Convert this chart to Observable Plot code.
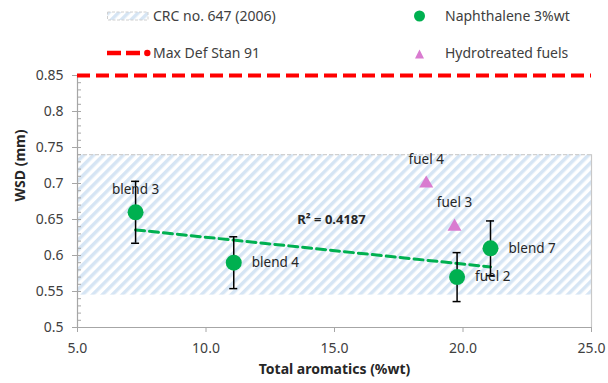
<!DOCTYPE html>
<html><head><meta charset="utf-8">
<script src="https://cdn.jsdelivr.net/npm/d3@7"></script>
<script src="https://cdn.jsdelivr.net/npm/@observablehq/plot@0.6"></script>
<style>
body{margin:0;background:#fff;font-family:"Noto Sans",sans-serif;}
#wrap{position:relative;width:608px;height:383px;overflow:hidden;}
#legend{position:relative;width:608px;height:68px;font-size:14px;color:#404040;}
#legend span{position:absolute;line-height:20px;white-space:nowrap;}
#legend svg{position:absolute;left:0;top:0;}
#chart svg{display:block;}
</style></head><body>
<div id="wrap">
<div id="legend">
  <svg width="608" height="68">
    <defs>
      <pattern id="legHatch" patternUnits="userSpaceOnUse" width="7" height="7" patternTransform="rotate(45)">
        <rect width="7" height="7" fill="#ffffff"/>
        <rect width="3.5" height="7" fill="#d6e5f4"/>
      </pattern>
    </defs>
    <rect x="107.5" y="12" width="40.5" height="8" fill="url(#legHatch)" stroke="#d0d0d0" stroke-width="1" stroke-dasharray="3,1.5"/>
    <line x1="107" y1="53" x2="140" y2="53" stroke="#ff0000" stroke-width="4.5" stroke-dasharray="14,5"/>
    <circle cx="147.3" cy="53" r="3.2" fill="#ff0000"/>
    <circle cx="419.5" cy="16" r="5.5" fill="#00b050"/>
    <path d="M419.5,49.5 L424,58.5 L415,58.5 Z" fill="#d97bd0"/>
  </svg>
  <span style="left:153px;top:6px">CRC no. 647 (2006)</span>
  <span style="left:153px;top:43px">Max Def Stan 91</span>
  <span style="left:445px;top:6px">Naphthalene 3%wt</span>
  <span style="left:445px;top:43px">Hydrotreated fuels</span>
</div>
<div id="chart"></div>
</div>
<script>
// ---- data ----
const naphLabels = ["blend 3", "blend 4", "fuel 2", "blend 7"];
const naphX = [7.26, 11.08, 19.77, 21.07];
const naphY = [0.66, 0.59, 0.57, 0.61];
const naphErr = [0.043, 0.036, 0.034, 0.038];
const naphLabelPos = ["top", "right", "right", "right"];

const hydroLabels = ["fuel 4", "fuel 3"];
const hydroX = [18.57, 19.67];
const hydroY = [0.70, 0.64];

const crcBand = [0.545, 0.74];
const maxDefStan = [0.85];

const xDomain = [5, 25];
const yDomain = [0.5, 0.85];
const xTicks = [5, 10, 15, 20, 25];
const yTicks = [0.5, 0.55, 0.6, 0.65, 0.7, 0.75, 0.8, 0.85];
const yMinorTicks = d3.range(50, 86).map(v => v / 100);

const r2Note = [{x: 13.55, y: 0.65, text: "R² = 0.4187"}];

// ---- tables ----
const naph = naphX.map((x, i) => ({x, y: naphY[i], err: naphErr[i], label: naphLabels[i], pos: naphLabelPos[i]}));
const hydro = hydroX.map((x, i) => ({x, y: hydroY[i], label: hydroLabels[i]}));
const band = [{x1: xDomain[0], x2: xDomain[1], y1: crcBand[0], y2: crcBand[1]}];

const axisGray = "#a6a6a6";
const textCol = "#404040";
const labelCol = "#262626";

const chart = Plot.plot({
  width: 608, height: 315,
  marginLeft: 77, marginRight: 17, marginTop: 7, marginBottom: 56,
  style: {fontFamily: '"Noto Sans", sans-serif', fontSize: "14px", color: textCol, background: "white", overflow: "visible"},
  x: {domain: xDomain},
  y: {domain: yDomain},
  marks: [
    Plot.rect(band, {x1: "x1", x2: "x2", y1: "y1", y2: "y2", fill: "#d6e5f4"}),
    Plot.ruleY([crcBand[1]], {stroke: "#d0d0d0", strokeWidth: 1.2, strokeDasharray: "4,2"}),
    Plot.ruleX([xDomain[1]], {y1: () => yDomain[0], y2: () => crcBand[1], stroke: "#c8c8c8", strokeWidth: 1.2}),
    Plot.ruleX([xDomain[0]], {stroke: axisGray, strokeWidth: 1.2}),
    Plot.ruleY([yDomain[0]], {stroke: axisGray, strokeWidth: 1.2}),
    Plot.ruleY(yMinorTicks, {y: d => d, x1: () => xDomain[0], x2: () => xDomain[0], insetRight: -4, stroke: axisGray}),
    Plot.axisY({ticks: yTicks, tickSize: 5, tickPadding: 9, tickFormat: d => String(d), stroke: axisGray, fill: textCol, label: null, fontSize: 14}),
    Plot.axisX({ticks: xTicks, tickSize: 5, tickPadding: 11, tickFormat: d => d.toFixed(1), stroke: axisGray, fill: textCol, label: null, fontSize: 14}),
    Plot.ruleY(maxDefStan, {stroke: "#ff0000", strokeWidth: 4, strokeDasharray: "13,6"}),
    Plot.linearRegressionY(naph, {x: "x", y: "y", ci: 0, stroke: "#00b050", strokeWidth: 3, strokeDasharray: "9,5"}),
    Plot.ruleX(naph, {x: "x", y1: d => d.y - d.err, y2: d => d.y + d.err, stroke: "#000", strokeWidth: 1.5}),
    Plot.ruleY(naph, {y: d => d.y - d.err, x1: "x", x2: "x", insetLeft: -4, insetRight: -4, stroke: "#000", strokeWidth: 1.5}),
    Plot.ruleY(naph, {y: d => d.y + d.err, x1: "x", x2: "x", insetLeft: -4, insetRight: -4, stroke: "#000", strokeWidth: 1.5}),
    Plot.dot(naph, {x: "x", y: "y", r: 8, fill: "#00b050"}),
    Plot.dot(hydro, {x: "x", y: "y", symbol: "triangle", r: 5.2, fill: "#d97bd0"}),
    Plot.text(naph.filter(d => d.pos === "top"), {x: "x", y: "y", text: "label", dy: -23, fill: labelCol, fontSize: 13.5}),
    Plot.text(naph.filter(d => d.pos === "right"), {x: "x", y: "y", text: "label", dx: 18, textAnchor: "start", fill: labelCol, fontSize: 13.5}),
    Plot.text(hydro, {x: "x", y: "y", text: "label", dy: -24, fill: labelCol, fontSize: 13.5}),
    Plot.text(r2Note, {x: "x", y: "y", text: "text", textAnchor: "start", fontWeight: "bold", fill: labelCol, fontSize: 13}),
    Plot.text(["WSD (mm)"], {frameAnchor: "left", dx: -57, rotate: -90, fontWeight: "bold", fill: labelCol, fontSize: 14}),
    Plot.text(["Total aromatics (%wt)"], {frameAnchor: "bottom", dy: 46, fontWeight: "bold", fill: labelCol, fontSize: 14})
  ]
});

// hatch pattern for the CRC band
const svg = d3.select(chart);
const defs = svg.insert("defs", ":first-child");
const pat = defs.append("pattern").attr("id", "crcHatch").attr("patternUnits", "userSpaceOnUse")
  .attr("width", 7).attr("height", 7).attr("patternTransform", "rotate(45)");
pat.append("rect").attr("width", 7).attr("height", 7).attr("fill", "#ffffff");
pat.append("rect").attr("width", 3.5).attr("height", 7).attr("fill", "#d6e5f4");
svg.select('g[aria-label="rect"] rect').attr("fill", "url(#crcHatch)");

document.getElementById("chart").appendChild(chart);
</script>
</body></html>
